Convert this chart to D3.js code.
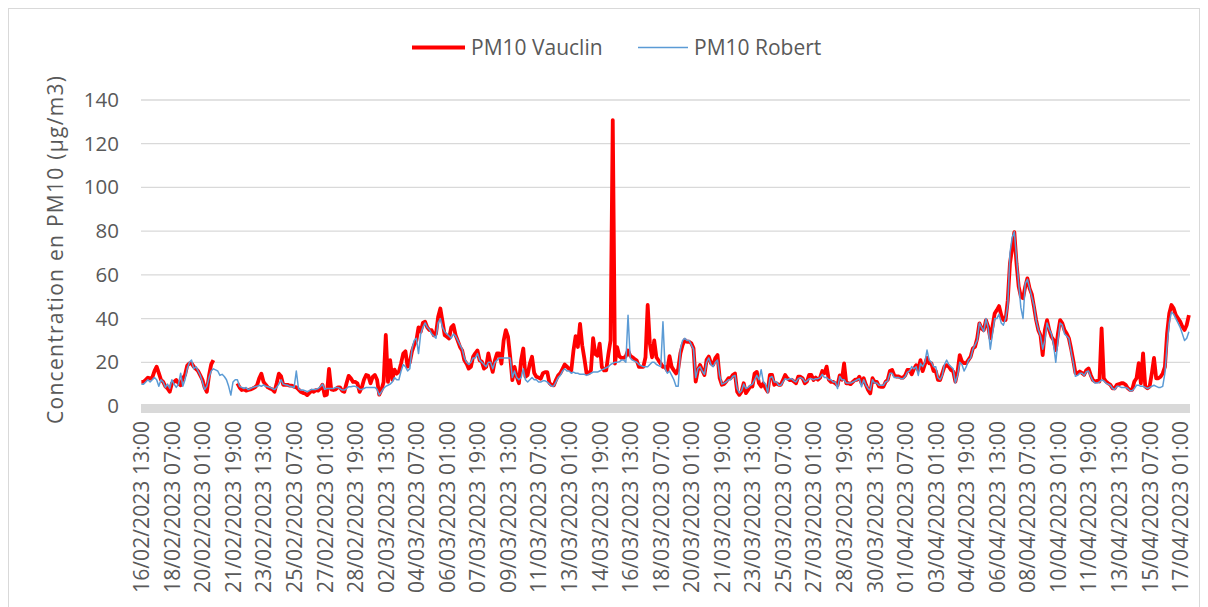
<!DOCTYPE html>
<html>
<head>
<meta charset="utf-8">
<script src="https://cdn.jsdelivr.net/npm/d3@7"></script>
<style>
  body { margin: 0; background: #fff; }
  text { font-family: "Open Sans", sans-serif; fill: #595959; }
</style>
</head>
<body>
<div id="chart"></div>
<script>
// PM10 hourly series, read every 3 hours from 16/02/2023 13:00
var stepHours = 3;
var hourlyCount = 1442; // number of hourly categories on the axis

var seriesNames = ["PM10 Vauclin", "PM10 Robert"];

var vauclin = [
  11, 11, 12, 13, 12.5, 13, 16, 18, 15, 12, 11, 9, 8, 6.5,
  10.4, 11, 11.9, 10.4, 9.5, 12.7, 14.2, 18.5, 19.5, 19.5, 18, 17, 16, 14,
  12, 8.5, 6.5, 14, 19, 21, null, null, null, null, null, null, null, null,
  null, null, 10.4, 8.5, 7.3, 7.6, 7, 7.3, 7.6, 8, 8.5, 9.5, 12.7, 14.8,
  11, 9.7, 8.5, 8, 7.6, 6.5, 10.4, 14.8, 13.6, 9.7, 9.7, 9.7, 9.3, 9.3,
  8.8, 8.5, 7.6, 6.5, 6, 5.7, 5, 6, 7, 6.5, 7.3, 7, 8, 9.7,
  4.8, 5.2, 17, 7.6, 7.3, 7.6, 8.5, 8.5, 7, 6.5, 10.4, 13.8, 12.7, 11,
  11, 10.4, 6.5, 8.5, 12, 14.2, 13.8, 10.4, 13.3, 14.2, 12, 5.2, 7.3, 11,
  32.5, 11, 21, 12, 16.6, 14.8, 15.7, 19.5, 24, 25, 18, 20, 25, 28,
  29.9, 36, 34, 38, 38.6, 36, 34.7, 34.7, 32.4, 33, 40.8, 44.6, 38.6, 32.4,
  31.7, 30.9, 36, 37, 32.4, 29.8, 27, 25.4, 20.9, 19.4, 17.1, 17.9, 22.5, 24.1,
  25.4, 20.9, 20.3, 17.1, 17.9, 24.1, 19.4, 15.6, 20.9, 24.1, 24.1, 19.4, 29.9, 34.7,
  31.7, 22.5, 11.8, 17.9, 13.4, 10.4, 20.9, 26.3, 13.4, 14.2, 19.4, 22.5, 15.1, 13.4,
  13, 12.5, 15, 15.5, 15.5, 10.5, 9.6, 9.5, 12, 14, 15, 17, 19, 18,
  17, 16.3, 25.4, 32, 27, 37.6, 27.8, 21.7, 14.9, 14.9, 16.3, 31, 23.8, 23,
  28.5, 17.9, 16.3, 16.3, 23.8, 30, 130.8, 19.4, 26.9, 22.8, 22, 22, 22.8, 25.4,
  23, 22.3, 21.5, 20.8, 17.9, 17.9, 17.9, 22.3, 46.2, 28.5, 22.3, 30, 22.3, 20.8,
  19.4, 17.9, 17.9, 16.3, 22.8, 17.9, 16.3, 14.9, 17, 24.1, 27.9, 30.2, 29.4, 29.4,
  28.7, 26.4, 11.2, 16.4, 18.8, 16.4, 14.2, 21.1, 22.6, 19.6, 18.8, 21.9, 23.3, 12.7,
  9.7, 10.1, 11.2, 12.7, 12.7, 14.2, 14.9, 6.6, 5.1, 6.6, 10.4, 5.9, 7.4, 8.9,
  8.9, 14.9, 15.6, 10.4, 8.9, 10.4, 8.1, 6.6, 14.2, 14.2, 9.7, 10.4, 9.7, 9.7,
  11.9, 14.2, 12.7, 11.9, 12, 11.2, 10.4, 13.4, 13.4, 12.7, 10.4, 11.2, 14.2, 14.2,
  11.9, 13, 12, 13, 16, 15, 18, 12, 11, 11, 10.4, 9.5, 14, 12,
  19.5, 10.4, 10.4, 10, 11, 12, 12, 13.4, 10.4, 12.7, 9.7, 7.3, 5.8, 12.7,
  11, 11, 9, 8.8, 8.8, 11, 12, 16, 16.5, 14, 13.5, 13.5, 13, 13,
  14, 16.5, 16.5, 14.5, 17, 18.7, 16.5, 21, 16, 19, 22, 19.5, 19.5, 16,
  16, 12, 11.9, 15, 18, 18.7, 18, 16.5, 15.8, 11.2, 15.8, 23.3, 20.3, 19.6,
  19.6, 21.1, 22.6, 26.3, 27.1, 31, 37.8, 35.5, 34.7, 39.3, 36.3, 31, 36.3, 42.3,
  43.9, 45.7, 41.6, 39.3, 39.3, 48.4, 65.3, 72, 79.5, 65.3, 54.6, 50, 49.3, 54.6,
  58.4, 53.8, 51.2, 45.4, 39.3, 34.7, 32.4, 23.3, 34.7, 39.3, 34.7, 31.7, 30.2, 25.6,
  33.2, 39.3, 37.8, 34.7, 33.2, 31, 26.3, 20.9, 15.1, 15.1, 15.8, 15.1, 14.3, 16.4,
  17.2, 14.2, 11.9, 11.2, 11.5, 11.2, 35.5, 12.7, 11.2, 10.4, 9.7, 8.1, 8.1, 9.7,
  10, 10.4, 10.4, 9.7, 8.1, 7.4, 7.4, 11.2, 12.7, 19.6, 10.4, 24.1, 8.9, 8.1,
  8.9, 14.9, 22, 12.7, 12.7, 13.4, 14.9, 17.9, 33.2, 42.3, 46.2, 44.7, 41.6, 40.1,
  38.6, 36.3, 34.8, 37.1, 41.6
];

var robert = [
  10, 10, 11, 12, 11, 12, 13, 12, 9, 12, 11, 8.5, 10, 8,
  12, 10, 8.5, 10, 15, 9, 12, 17, 20, 21, 17, 18, 16, 14,
  11, 7.5, 9, 13, 16, 17, 16.5, 16, 14, 14.5, 13.5, 12, 9, 5,
  11, 12, 12, 9, 8.5, 8, 8.5, 7.5, 8, 8.5, 8.8, 9, 9.5, 9,
  9.7, 9, 8.8, 8.5, 8, 7.5, 8.5, 10, 12, 10, 9.7, 9.5, 9, 8.8,
  8.5, 16, 8, 7.3, 7.3, 7, 6.5, 7, 7.6, 7.6, 7.6, 8, 8.8, 10,
  7.6, 8, 8, 8, 8, 8.5, 8.5, 8, 7.3, 7.3, 8, 8.8, 8.8, 9,
  9, 8.5, 7.6, 7.6, 8, 8.5, 8.5, 8.5, 8.5, 8.5, 7.6, 5, 6.5, 8,
  9, 9.5, 10, 11, 13, 12, 12, 16, 19, 18, 16, 17, 26, 30,
  31, 24, 33, 36, 38, 36, 35, 33, 32, 31, 38, 40, 36, 34,
  33, 32, 31, 33, 32, 30, 28, 26, 22, 20, 19, 20, 22, 22,
  24, 21, 20, 19, 18, 20, 20, 17, 20, 21, 22, 22, 22, 22,
  22, 22, 13, 16, 13, 12, 13, 17, 12, 11, 12, 13, 12, 12,
  11, 11, 11.5, 11.5, 11, 10, 9, 9.2, 11, 13, 14, 16, 17, 16,
  16, 15, 15.5, 15, 15, 14.5, 14.5, 14.5, 14, 14.5, 15, 15.5, 15.5, 15.5,
  16, 16.5, 17, 17.5, 18, 19, 19.5, 20, 20, 20.2, 21, 21, 20, 41.5,
  22, 21, 20.5, 20, 19, 18.5, 18, 18, 18, 19, 20, 20, 19, 18.5,
  18, 38.5, 17, 15, 16, 14, 12, 9, 9, 26, 30, 31, 30, 30,
  28, 26, 13, 17, 18, 16, 14.5, 20, 22, 19, 18, 20, 21, 14,
  10, 10.5, 11, 12, 12, 13.5, 14, 8, 6, 7, 10, 8, 8.5, 9.5,
  10, 12, 14, 12, 16.6, 11, 10, 6, 13, 13.5, 11, 11, 9.5, 9.5,
  11, 12.5, 12, 12.5, 12.5, 11.5, 11, 12.5, 13, 12.5, 11, 11.5, 12.5, 12.5,
  12, 12.5, 12.5, 13, 14.5, 13, 13, 12, 12, 11, 11, 8, 13.5, 12,
  12, 10.5, 10.5, 10.5, 11, 11.5, 12, 12.5, 8.8, 12, 9.5, 8, 7.3, 12,
  10.5, 10.5, 9.5, 9.5, 9.5, 11, 11.5, 15, 15, 13, 13, 13, 12.5, 12.5,
  13.5, 15.5, 16, 18, 17, 18, 14, 19.5, 18, 20, 25.6, 21, 20, 18,
  18, 13, 12, 14, 19, 21, 19, 18, 17, 10.5, 14, 20, 19, 16,
  18, 21, 22, 26, 28, 30, 38, 36, 34, 40, 36, 26, 33, 40,
  40, 42, 38, 37, 40, 46, 70, 77, 79.7, 68, 56, 45, 40, 56,
  58, 54, 50, 46, 39, 35, 32, 26, 30, 38, 35, 33, 28, 20,
  30, 38, 37, 33, 32, 31, 25, 20, 13.6, 14, 15, 15, 14, 15.7,
  16, 13.5, 11.5, 10.5, 10.5, 11, 12, 11.5, 10.5, 10, 9.5, 8, 7.5, 9,
  9, 8.5, 8.5, 8.5, 8, 7, 7, 8, 9.5, 9.5, 9, 9, 8.5, 8,
  8.5, 9, 9.5, 9, 8.5, 8.5, 9, 15, 28, 38, 43, 42, 40, 38,
  36, 33, 30, 31, 34
];

var tickLabels = [
  "16/02/2023 13:00", "18/02/2023 07:00", "20/02/2023 01:00", "21/02/2023 19:00",
  "23/02/2023 13:00", "25/02/2023 07:00", "27/02/2023 01:00", "28/02/2023 19:00",
  "02/03/2023 13:00", "04/03/2023 07:00", "06/03/2023 01:00", "07/03/2023 19:00",
  "09/03/2023 13:00", "11/03/2023 07:00", "13/03/2023 01:00", "14/03/2023 19:00",
  "16/03/2023 13:00", "18/03/2023 07:00", "20/03/2023 01:00", "21/03/2023 19:00",
  "23/03/2023 13:00", "25/03/2023 07:00", "27/03/2023 01:00", "28/03/2023 19:00",
  "30/03/2023 13:00", "01/04/2023 07:00", "03/04/2023 01:00", "04/04/2023 19:00",
  "06/04/2023 13:00", "08/04/2023 07:00", "10/04/2023 01:00", "11/04/2023 19:00",
  "13/04/2023 13:00", "15/04/2023 07:00", "17/04/2023 01:00"
];

var yTicks = [0, 20, 40, 60, 80, 100, 120, 140];

var width = 1208, height = 607;
var plot = { left: 141, right: 1190, top: 100, bottom: 406 };

var svg = d3.select("#chart").append("svg")
    .attr("width", width)
    .attr("height", height);

// chart border
svg.append("rect")
    .attr("x", 8.5).attr("y", 8.5)
    .attr("width", 1191).attr("height", 640)
    .attr("fill", "none")
    .attr("stroke", "#d9d9d9");

var parse = d3.utcParse("%d/%m/%Y %H:%M");
var fmt = d3.utcFormat("%d/%m/%Y %H:%M");
var t0 = parse(tickLabels[0]);
var dates = vauclin.map(function (d, i) { return d3.utcHour.offset(t0, i * stepHours); });

var x = d3.scaleUtc()
    .domain([d3.utcMinute.offset(t0, -30), d3.utcMinute.offset(t0, (hourlyCount - 1) * 60 + 30)])
    .range([plot.left, plot.right]);

var y = d3.scaleLinear()
    .domain([0, 140])
    .range([plot.bottom, plot.top]);

// gridlines
svg.append("g").selectAll("line")
    .data(yTicks.filter(function (d) { return d > 0; }))
    .enter().append("line")
    .attr("x1", plot.left).attr("x2", plot.right)
    .attr("y1", function (d) { return y(d); })
    .attr("y2", function (d) { return y(d); })
    .attr("stroke", "#d9d9d9")
    .attr("stroke-width", 1.3);

// horizontal axis band
svg.append("rect")
    .attr("x", plot.left).attr("y", plot.bottom - 2)
    .attr("width", plot.right - plot.left).attr("height", 9)
    .attr("fill", "#d9d9d9");

// y axis labels
var yAxis = svg.append("g")
    .attr("transform", "translate(" + plot.left + ",0)")
    .call(d3.axisLeft(y).tickValues(yTicks).tickSize(0).tickPadding(22));
yAxis.select(".domain").remove();
yAxis.selectAll("text")
    .style("font-size", "20.5px")
    .style("font-family", "'Open Sans', sans-serif")
    .attr("fill", "#595959");

// x axis labels (rotated)
var xAxis = svg.append("g")
    .attr("transform", "translate(0," + plot.bottom + ")")
    .call(d3.axisBottom(x).tickValues(tickLabels.map(parse)).tickFormat(fmt).tickSize(0));
xAxis.select(".domain").remove();
xAxis.selectAll("text")
    .attr("transform", "rotate(-90)")
    .attr("x", -15)
    .attr("y", 0)
    .attr("dy", "0.35em")
    .style("text-anchor", "end")
    .style("font-size", "21.2px")
    .style("font-family", "'Open Sans', sans-serif")
    .attr("fill", "#595959");

// y axis title
svg.append("text")
    .attr("transform", "translate(63,250) rotate(-90)")
    .attr("text-anchor", "middle")
    .attr("textLength", 348)
    .attr("lengthAdjust", "spacing")
    .style("font-size", "21px")
    .text("Concentration en PM10 (\u00b5g/m3)");

// lines
var line = d3.line()
    .defined(function (d) { return d != null; })
    .x(function (d, i) { return x(dates[i]); })
    .y(function (d) { return y(d); });

svg.append("path")
    .datum(vauclin)
    .attr("fill", "none")
    .attr("stroke", "#ff0000")
    .attr("stroke-width", 3.8)
    .attr("stroke-linejoin", "round")
    .attr("d", line);

svg.append("path")
    .datum(robert)
    .attr("fill", "none")
    .attr("stroke", "#5b9bd5")
    .attr("stroke-width", 1.5)
    .attr("stroke-linejoin", "round")
    .attr("d", line);

// legend
var legend = [
  { name: seriesNames[0], color: "#ff0000", w: 3.8, x1: 412, x2: 465 },
  { name: seriesNames[1], color: "#5b9bd5", w: 1.5, x1: 638, x2: 688 }
];
var lg = svg.append("g").selectAll("g").data(legend).enter().append("g");
lg.append("line")
    .attr("x1", function (d) { return d.x1; })
    .attr("x2", function (d) { return d.x2; })
    .attr("y1", 47.5).attr("y2", 47.5)
    .attr("stroke", function (d) { return d.color; })
    .attr("stroke-width", function (d) { return d.w; });
lg.append("text")
    .attr("x", function (d) { return d.x2 + 6; })
    .attr("y", 54.5)
    .style("font-size", "21px")
    .text(function (d) { return d.name; });
</script>
</body>
</html>
